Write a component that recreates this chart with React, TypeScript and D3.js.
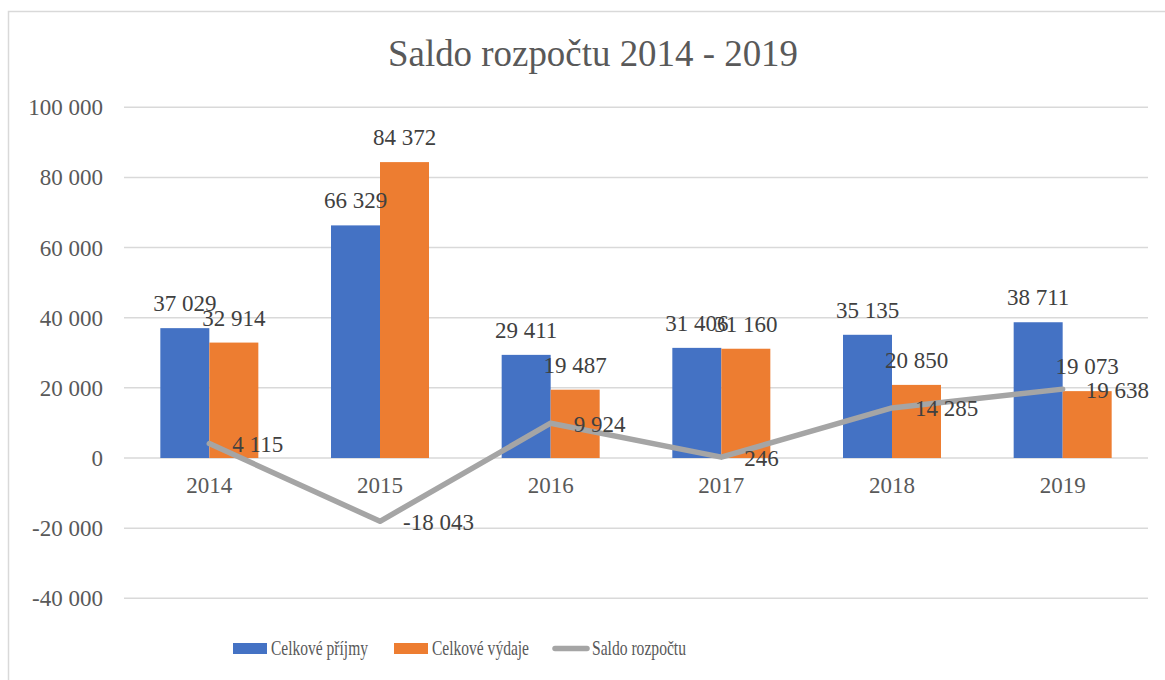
import React from "react";
import * as d3 from "d3";

const categories = ["2014", "2015", "2016", "2017", "2018", "2019"];
const prijmy = [37029, 66329, 29411, 31406, 35135, 38711];
const vydaje = [32914, 84372, 19487, 31160, 20850, 19073];
const saldo = [4115, -18043, 9924, 246, 14285, 19638];
const yTicks = [100000, 80000, 60000, 40000, 20000, 0, -20000, -40000];
const seriesNames = ["Celkové příjmy", "Celkové výdaje", "Saldo rozpočtu"];

const BLUE = "#4472C4";
const ORANGE = "#ED7D31";
const GRAY = "#A5A5A5";
const TXT = "#595959";
const LBL = "#404040";
const FONT = "Liberation Serif, DejaVu Serif, serif";

const fmt = (v: number) => {
  const s = Math.abs(v).toString().replace(/\B(?=(\d{3})+(?!\d))/g, " ");
  return (v < 0 ? "-" : "") + s;
};

export default function App() {
  const x = d3.scaleBand<string>().domain(categories).range([124, 1148]);
  const y = d3.scaleLinear().domain([-40000, 100000]).range([598.3, 107.3]);
  const bw = 49;
  const cx = (c: string) => (x(c) as number) + x.bandwidth() / 2;
  const line = d3
    .line<number>()
    .x((_, i) => cx(categories[i]))
    .y((d) => y(d));

  return (
    <svg
      width={1165}
      height={680}
      style={{ position: "absolute", left: 0, top: 0, background: "#fff", fontFamily: FONT }}
    >
      <rect x={8.5} y={11.5} width={1170} height={690} fill="#fff" stroke="#D9D9D9" strokeWidth={1.5} />
      <text x={593} y={66} textAnchor="middle" fontSize={37} fill={TXT} textLength={410} lengthAdjust="spacingAndGlyphs">
        Saldo rozpočtu 2014 - 2019
      </text>
      {yTicks.map((t) => (
        <g key={t}>
          <line x1={124} x2={1148} y1={y(t)} y2={y(t)} stroke="#D9D9D9" strokeWidth={1.5} />
          <text x={103} y={y(t) + 8} textAnchor="end" fontSize={23} fill={TXT}>
            {fmt(t)}
          </text>
        </g>
      ))}
      {categories.map((c, i) => (
        <g key={c}>
          <rect x={cx(c) - bw} y={y(prijmy[i])} width={bw} height={y(0) - y(prijmy[i])} fill={BLUE} />
          <rect x={cx(c)} y={y(vydaje[i])} width={bw} height={y(0) - y(vydaje[i])} fill={ORANGE} />
        </g>
      ))}
      <path d={line(saldo) || ""} fill="none" stroke={GRAY} strokeWidth={5.5} strokeLinejoin="round" strokeLinecap="round" />
      {categories.map((c, i) => (
        <g key={"l" + c} fontSize={23} fill={LBL}>
          <text x={cx(c) - bw / 2} y={y(prijmy[i]) - 17} textAnchor="middle">
            {fmt(prijmy[i])}
          </text>
          <text x={cx(c) + bw / 2} y={y(vydaje[i]) - 17} textAnchor="middle">
            {fmt(vydaje[i])}
          </text>
          <text x={cx(c) + 23} y={y(saldo[i]) + 8.5}>{fmt(saldo[i])}</text>
          <text x={cx(c)} y={493} textAnchor="middle" fill={TXT}>
            {c}
          </text>
        </g>
      ))}
      <g>
        <rect x={233} y={643} width={34} height={11} fill={BLUE} />
        <text x={271} y={655} fontSize={22} fill={TXT} textLength={97} lengthAdjust="spacingAndGlyphs">
          {seriesNames[0]}
        </text>
        <rect x={394} y={643} width={34} height={11} fill={ORANGE} />
        <text x={432} y={655} fontSize={22} fill={TXT} textLength={97} lengthAdjust="spacingAndGlyphs">
          {seriesNames[1]}
        </text>
        <line x1={555} x2={587} y1={648.5} y2={648.5} stroke={GRAY} strokeWidth={5.5} strokeLinecap="round" />
        <text x={592} y={655} fontSize={22} fill={TXT} textLength={94} lengthAdjust="spacingAndGlyphs">
          {seriesNames[2]}
        </text>
      </g>
    </svg>
  );
}
